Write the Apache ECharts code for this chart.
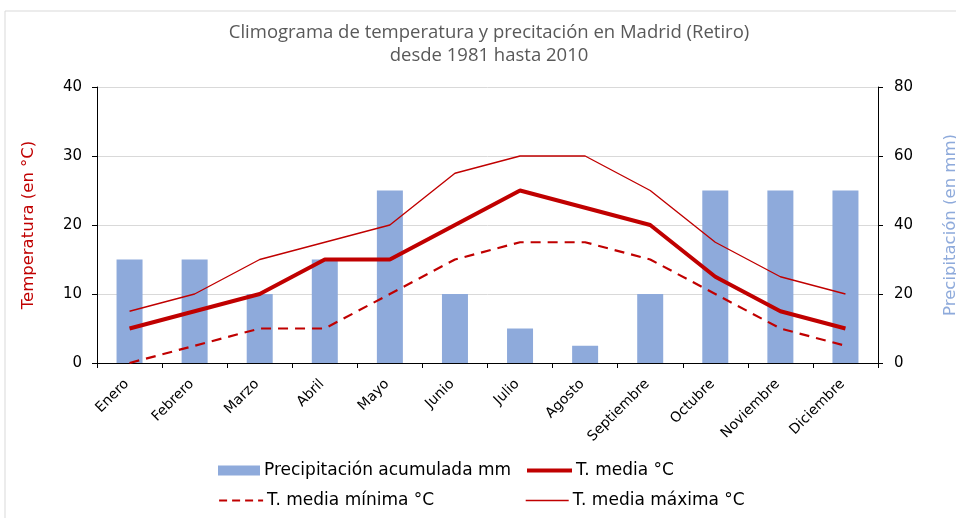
<!DOCTYPE html>
<html>
<head>
<meta charset="utf-8">
<script src="https://cdn.jsdelivr.net/npm/echarts@6/dist/echarts.min.js"></script>
<style>
  html, body { margin: 0; padding: 0; background: #fff; }
  #chart { width: 956px; height: 518px; }
</style>
</head>
<body>
<div id="chart"></div>
<script>
// Climograma Madrid (Retiro) 1981-2010
const months = ['Enero', 'Febrero', 'Marzo', 'Abril', 'Mayo', 'Junio', 'Julio', 'Agosto', 'Septiembre', 'Octubre', 'Noviembre', 'Diciembre'];
const precip = [30, 30, 20, 30, 50, 20, 10, 5, 20, 50, 50, 50];
const tMedia = [5, 7.5, 10, 15, 15, 20, 25, 22.5, 20, 12.5, 7.5, 5];
const tMin = [0, 2.5, 5, 5, 10, 15, 17.5, 17.5, 15, 10, 5, 2.5];
const tMax = [7.5, 10, 15, 17.5, 20, 27.5, 30, 30, 25, 17.5, 12.5, 10];

const red = '#c00000';
const blue = '#8eaadb';
const font = 'DejaVu Sans';

// one legend per entry so the two columns line up like the original
function legendItem(name, left, top, w, h, line) {
    const item = { name: name };
    if (line) {
        item.itemStyle = { opacity: 0 };
        item.lineStyle = line;
    } else {
        item.icon = 'rect';
    }
    return {
        left: left,
        top: top,
        padding: 0,
        itemWidth: w,
        itemHeight: h,
        itemGap: 0,
        selectedMode: false,
        data: [item],
        textStyle: { fontFamily: font, fontSize: 17, color: '#000', padding: [0, 0, 0, -1] }
    };
}

const chart = echarts.init(document.getElementById('chart'));

chart.setOption({
    animation: false,
    graphic: [{
        type: 'rect',
        shape: { x: 5, y: 11, width: 1000, height: 600 },
        style: { fill: 'none', stroke: '#d9d9d9', lineWidth: 1 }
    }],
    title: {
        text: 'Climograma de temperatura y precitación en Madrid (Retiro)\ndesde 1981 hasta 2010',
        left: 484,
        textAlign: 'center',
        top: 16,
        textStyle: {
            fontFamily: 'Open Sans',
            fontSize: 18.5,
            fontWeight: 'normal',
            color: '#595959',
            lineHeight: 23
        }
    },
    legend: [
        legendItem('Precipitación acumulada mm', 218, 462, 42, 10, null),
        legendItem('T. media °C', 525, 462, 45, 14, { color: red, width: 4, type: 'solid' }),
        legendItem('T. media mínima °C', 218, 492, 44, 14, { color: red, width: 2.2, type: [8, 5] }),
        legendItem('T. media máxima °C', 525, 492, 43, 14, { color: red, width: 1.4, type: 'solid' })
    ],
    grid: {
        left: 97,
        right: 78,
        top: 87,
        bottom: 155,
        containLabel: false,
        outerBoundsMode: 'none'
    },
    xAxis: {
        type: 'category',
        data: months,
        boundaryGap: true,
        axisLine: { lineStyle: { color: '#000' } },
        axisTick: { show: true, alignWithLabel: false, length: 5, lineStyle: { color: '#000' } },
        axisLabel: {
            rotate: 45,
            interval: 0,
            fontFamily: font,
            fontSize: 14,
            color: '#000',
            margin: 16,
            padding: [0, 4, 0, 0]
        }
    },
    yAxis: [{
        type: 'value',
        min: 0,
        max: 40,
        interval: 10,
        position: 'left',
        name: 'Temperatura (en °C)',
        nameLocation: 'middle',
        nameGap: 60,
        nameTextStyle: { fontFamily: font, fontSize: 16.5, color: red },
        axisLine: { show: true, lineStyle: { color: '#000' } },
        axisTick: { show: true, length: 5, lineStyle: { color: '#000' } },
        axisLabel: { fontFamily: font, fontSize: 15, color: '#000', margin: 15 },
        splitLine: { lineStyle: { color: '#d9d9d9' } }
    }, {
        type: 'value',
        min: 0,
        max: 80,
        interval: 20,
        position: 'right',
        name: 'Precipitación (en mm)',
        nameLocation: 'middle',
        nameRotate: 90,
        nameGap: 64,
        nameTextStyle: { fontFamily: font, fontSize: 16.5, color: blue },
        axisLine: { show: true, lineStyle: { color: '#000' } },
        axisTick: { show: true, length: 5, lineStyle: { color: '#000' } },
        axisLabel: { fontFamily: font, fontSize: 15, color: '#000', margin: 16 },
        splitLine: { show: false }
    }],
    series: [{
        name: 'Precipitación acumulada mm',
        type: 'bar',
        yAxisIndex: 1,
        data: precip,
        barWidth: 26,
        itemStyle: { color: blue }
    }, {
        name: 'T. media °C',
        type: 'line',
        data: tMedia,
        symbol: 'none',
        lineStyle: { color: red, width: 4 },
        itemStyle: { color: red }
    }, {
        name: 'T. media mínima °C',
        type: 'line',
        data: tMin,
        symbol: 'none',
        lineStyle: { color: red, width: 2.2, type: [10, 7] },
        itemStyle: { color: red }
    }, {
        name: 'T. media máxima °C',
        type: 'line',
        data: tMax,
        symbol: 'none',
        lineStyle: { color: red, width: 1.4 },
        itemStyle: { color: red }
    }]
});
</script>
</body>
</html>
